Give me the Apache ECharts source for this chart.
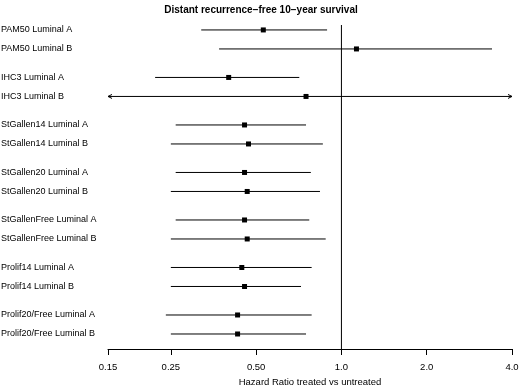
<!DOCTYPE html>
<html>
<head>
<meta charset="utf-8">
<script src="https://cdn.jsdelivr.net/npm/echarts@6/dist/echarts.min.js"></script>
<style>
	html, body { margin: 0; padding: 0; background: #fff; }
	#main { width: 520px; height: 385px; }
</style>
</head>
<body>
<div id="main"></div>
<script>
	// 行名称, 每组两行
	var labels = [ 'PAM50 Luminal A', 'PAM50 Luminal B', 'IHC3 Luminal A', 'IHC3 Luminal B',
		'StGallen14 Luminal A', 'StGallen14 Luminal B', 'StGallen20 Luminal A', 'StGallen20 Luminal B',
		'StGallenFree Luminal A', 'StGallenFree Luminal B', 'Prolif14 Luminal A', 'Prolif14 Luminal B',
		'Prolif20/Free Luminal A', 'Prolif20/Free Luminal B' ];
	var groupOf = [ 0, 0, 1, 1, 2, 2, 3, 3, 4, 4, 5, 5, 6, 6 ];
	// 风险比及置信区间
	var hr = [ 0.53, 1.13, 0.40, 0.75, 0.455, 0.47, 0.455, 0.465, 0.455, 0.465, 0.445, 0.455, 0.43, 0.43 ];
	var lower = [ 0.32, 0.37, 0.22, 0.10, 0.26, 0.25, 0.26, 0.25, 0.26, 0.25, 0.25, 0.25, 0.24, 0.25 ];
	var upper = [ 0.89, 3.40, 0.71, 6.00, 0.75, 0.86, 0.78, 0.84, 0.77, 0.88, 0.785, 0.72, 0.785, 0.75 ];
	var tickValues = [ 0.15, 0.25, 0.5, 1, 2, 4 ];
	var axisMin = 0.15, axisMax = 4;

	var rows = [];
	for (var i = 0; i < labels.length; i++) {
		var pos = groupOf[i] * 2.5 + (i % 2);
		rows.push({ name : labels[i], value : [ hr[i], lower[i], upper[i], pos ] });
	}

	function renderRow(params, api) {
		var y = api.value(3);
		var lo = api.value(1), hi = api.value(2);
		var pLeft = api.coord([ Math.max(lo, axisMin), y ]);
		var pRight = api.coord([ Math.min(hi, axisMax), y ]);
		var pMid = api.coord([ api.value(0), y ]);
		var style = { stroke : '#000', lineWidth : 1, fill : null };
		var kids = [ {
			type : 'line',
			shape : { x1 : pLeft[0], y1 : pLeft[1], x2 : pRight[0], y2 : pRight[1] },
			style : style
		}, {
			type : 'rect',
			shape : { x : pMid[0] - 2.5, y : pMid[1] - 2.5, width : 5, height : 5 },
			style : { fill : '#000' }
		}, {
			type : 'text',
			x : 1,
			y : pMid[1],
			style : {
				text : labels[params.dataIndex],
				fill : '#000',
				font : '9px "Liberation Sans", Arial, sans-serif',
				verticalAlign : 'middle',
				align : 'left'
			}
		} ];
		if (lo < axisMin) {
			kids.push({ type : 'polyline', shape : { points : [ [ pLeft[0] + 4, pLeft[1] - 2 ], [ pLeft[0], pLeft[1] ], [ pLeft[0] + 4, pLeft[1] + 2 ] ] }, style : style });
		}
		if (hi > axisMax) {
			kids.push({ type : 'polyline', shape : { points : [ [ pRight[0] - 4, pRight[1] - 2 ], [ pRight[0], pRight[1] ], [ pRight[0] - 4, pRight[1] + 2 ] ] }, style : style });
		}
		return { type : 'group', children : kids };
	}

	var myChart = echarts.init(document.getElementById('main'));
	var option = {
		animation : false,
		title : {
			text : 'Distant recurrence\u2212free 10\u2212year survival',
			left : 256,
			textAlign : 'center',
			top : 0,
			textStyle : { fontSize : 10, fontWeight : 'bold', color : '#000', fontFamily : '"Liberation Sans", Arial, sans-serif' }
		},
		grid : { left : 108, right : 8, top : 25, bottom : 36, containLabel : false, outerBoundsMode : 'none' },
		xAxis : {
			type : 'log',
			logBase : 2,
			min : axisMin,
			max : axisMax,
			name : 'Hazard Ratio treated vs untreated',
			nameLocation : 'middle',
			nameGap : 27,
			nameTextStyle : { fontSize : 9.5, color : '#000', fontFamily : '"Liberation Sans", Arial, sans-serif' },
			splitLine : { show : false },
			axisLine : { onZero : false, lineStyle : { color : '#000', width : 1 } },
			axisTick : { customValues : tickValues, length : 6, lineStyle : { color : '#000' } },
			axisLabel : {
				customValues : tickValues,
				margin : 13,
				fontSize : 9.5,
				color : '#000',
				fontFamily : '"Liberation Sans", Arial, sans-serif',
				formatter : function(v) {
					return v < 1 ? v.toFixed(2) : v.toFixed(1);
				}
			}
		},
		yAxis : { type : 'value', inverse : true, min : -0.26, max : 16.79, show : false },
		series : [ {
			type : 'line',
			data : [ [ 1, -0.26 ], [ 1, 16.79 ] ],
			symbol : 'none',
			lineStyle : { color : '#000', width : 1 }
		}, {
			type : 'custom',
			renderItem : renderRow,
			encode : { x : [ 0, 1, 2 ], y : 3 },
			data : rows
		} ]
	};
	myChart.setOption(option);
</script>
</body>
</html>
